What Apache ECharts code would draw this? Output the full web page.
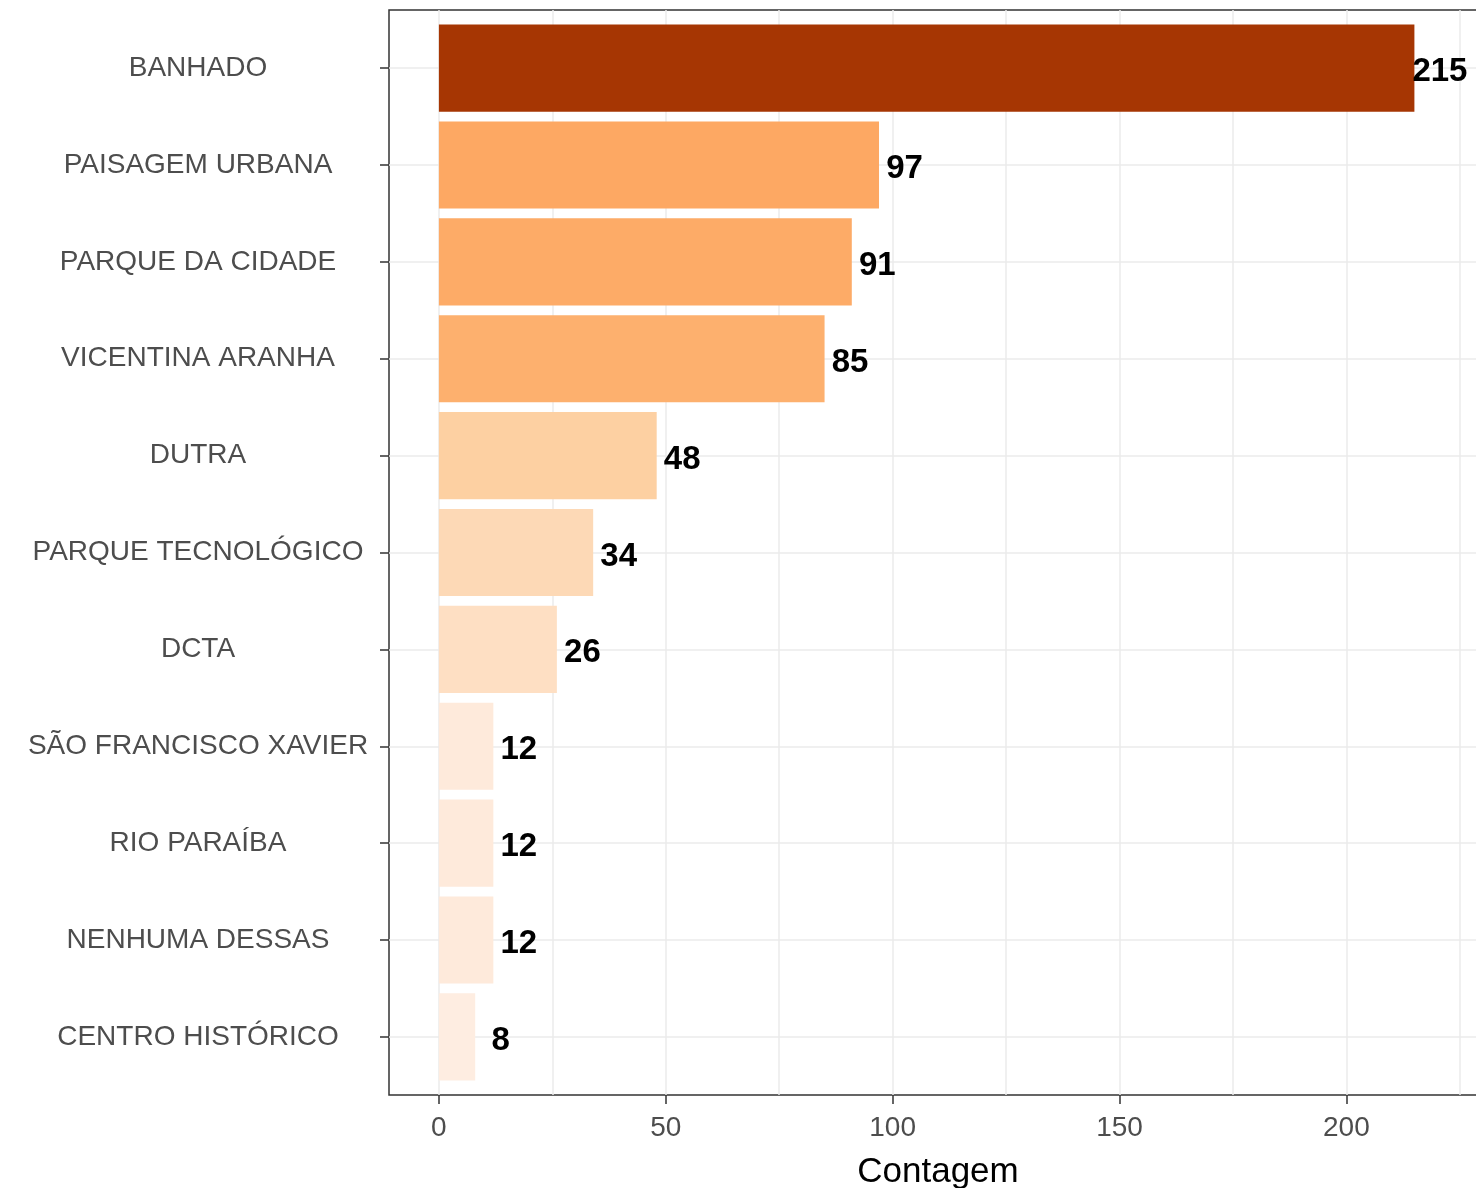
<!DOCTYPE html>
<html>
<head>
<meta charset="utf-8">
<script src="https://cdn.jsdelivr.net/npm/echarts@6/dist/echarts.min.js"></script>
<style>
  html, body { margin: 0; padding: 0; background: #ffffff; }
  #chart { width: 1476px; height: 1188px; }
</style>
</head>
<body>
<div id="chart"></div>
<script>
const categories = [
  'BANHADO', 'PAISAGEM URBANA', 'PARQUE DA CIDADE', 'VICENTINA ARANHA', 'DUTRA',
  'PARQUE TECNOLÓGICO', 'DCTA', 'SÃO FRANCISCO XAVIER', 'RIO PARAÍBA',
  'NENHUMA DESSAS', 'CENTRO HISTÓRICO'
];
const counts = [215, 97, 91, 85, 48, 34, 26, 12, 12, 12, 8];
const barColors = [
  '#a63603', '#fda863', '#fdab67', '#fdb06e', '#fdd0a2',
  '#fdd9b6', '#fedfc3', '#feeadb', '#feeadb', '#feeadb', '#feede1'
];
const xTickValues = [0, 50, 100, 150, 200];
const xGridValues = [0, 25, 50, 75, 100, 125, 150, 175, 200, 225];
const xMin = -11;
const xMax = 231;

const FONT = 'Liberation Sans, Arial, sans-serif';
const plotLeft = 389, plotTop = 10, plotRight = -11, plotHeight = 1085;
const nCat = categories.length;
const step = plotHeight / (nCat - 1 + 1.2);
const yIdx = categories.map((c, i) => i);

const chart = echarts.init(document.getElementById('chart'), null, { renderer: 'canvas' });

const option = {
  backgroundColor: '#ffffff',
  animation: false,
  grid: [
    { left: plotLeft, right: plotRight, top: plotTop + 0.1 * step, height: nCat * step,
      containLabel: false, outerBoundsMode: 'none' },
    { left: plotLeft, right: plotRight, top: plotTop, height: plotHeight,
      containLabel: false, outerBoundsMode: 'none',
      show: true, borderColor: '#333333', borderWidth: 1.5, backgroundColor: 'transparent' }
  ],
  xAxis: [
    { gridIndex: 0, type: 'value', min: xMin, max: xMax, show: false },
    { gridIndex: 1, type: 'value', min: xMin, max: xMax,
      axisLine: { show: false, onZero: false },
      axisTick: { show: false, customValues: xGridValues },
      axisLabel: { show: false },
      splitLine: { show: true, lineStyle: { color: '#ebebeb', width: 1.5 } } },
    { gridIndex: 1, type: 'value', min: xMin, max: xMax, position: 'bottom',
      axisLine: { show: false, onZero: false },
      axisTick: { show: true, length: 9, customValues: xTickValues, lineStyle: { color: '#333333', width: 1.5 } },
      axisLabel: { show: true, customValues: xTickValues, margin: 19, fontSize: 28, color: '#4d4d4d', fontFamily: FONT },
      splitLine: { show: false },
      name: 'Contagem', nameLocation: 'middle', nameGap: 60,
      nameTextStyle: { fontSize: 35, color: '#000000', fontFamily: FONT } }
  ],
  yAxis: [
    { gridIndex: 0, type: 'category', data: categories, inverse: true, position: 'left',
      axisLine: { show: false, onZero: false },
      axisTick: { show: true, alignWithLabel: true, length: 9, lineStyle: { color: '#333333', width: 1.5 } },
      axisLabel: { show: true, align: 'center', margin: 191, fontSize: 28, color: '#4d4d4d', fontFamily: FONT,
                   padding: [6, 0, 0, 0] },
      splitLine: { show: false } },
    { gridIndex: 1, type: 'value', min: -0.6, max: nCat - 1 + 0.6, inverse: true,
      axisLine: { show: false, onZero: false },
      axisTick: { show: false, customValues: yIdx },
      axisLabel: { show: false },
      splitLine: { show: true, lineStyle: { color: '#ebebeb', width: 1.5 } } }
  ],
  series: [
    {
      type: 'bar',
      xAxisIndex: 0,
      yAxisIndex: 0,
      barWidth: '90%',
      data: counts.map((v, i) => ({ value: v, itemStyle: { color: barColors[i] } })),
      label: {
        show: true,
        position: 'right',
        distance: 25.5,
        align: 'center',
        verticalAlign: 'middle',
        fontSize: 33,
        fontWeight: 'bold',
        color: '#000000',
        fontFamily: FONT,
        offset: [0, 4]
      },
      z: 3
    }
  ]
};
chart.setOption(option);
</script>
</body>
</html>
